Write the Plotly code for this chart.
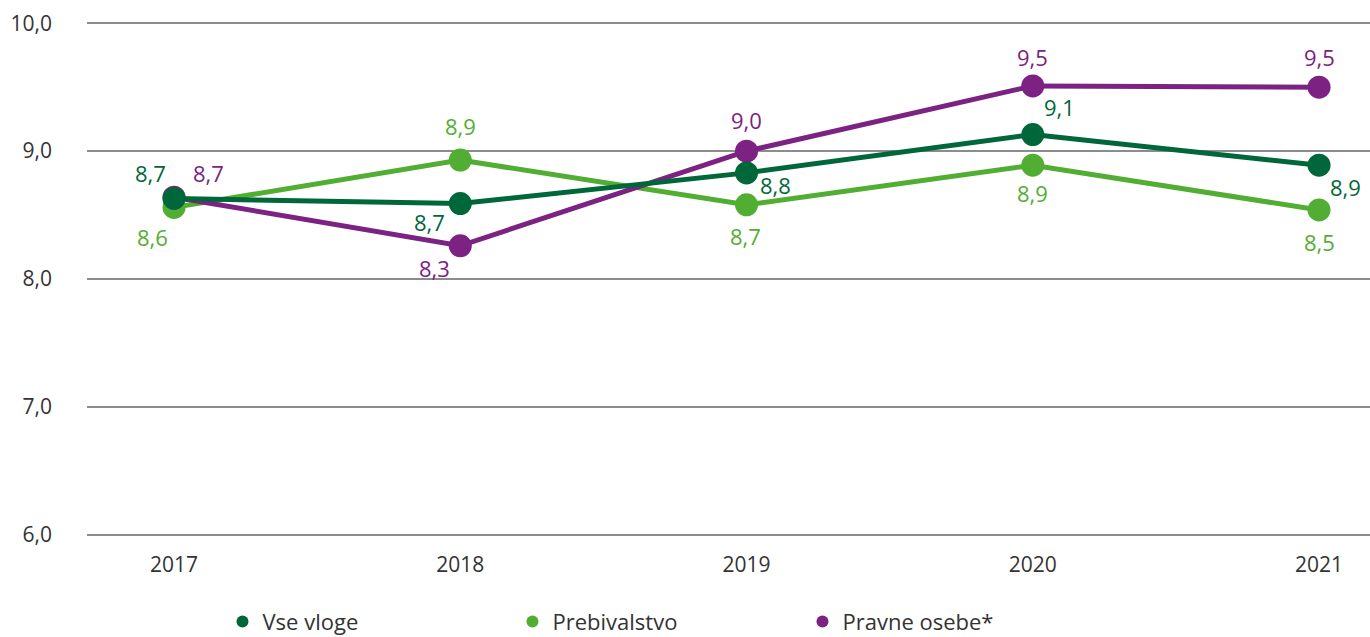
import plotly.graph_objects as go

years = ["2017", "2018", "2019", "2020", "2021"]
vse_vloge = [8.63, 8.59, 8.83, 9.13, 8.89]
prebivalstvo = [8.56, 8.93, 8.58, 8.89, 8.54]
pravne_osebe = [8.64, 8.26, 9.0, 9.51, 9.50]

vse_labels = ["8,7", "8,7", "8,8", "9,1", "8,9"]
preb_labels = ["8,6", "8,9", "8,7", "8,9", "8,5"]
prav_labels = ["8,7", "8,3", "9,0", "9,5", "9,5"]

names = ["Vse vloge", "Prebivalstvo", "Pravne osebe*"]
colors = ["#00673A", "#52AE32", "#7B2282"]

# label offsets (px) from each marker
vse_off = [(-24, -25), (-31, 18), (29, 12), (27, -28), (26, 22)]
preb_off = [(-22, 30), (0, -34), (-1, 31), (0, 28), (0, 32)]
prav_off = [(34, -24), (-26, 22), (0, -31), (0, -29), (0, -30)]

FONT = "Open Sans"
TXT = "#333333"
fig = go.Figure()

series = [
    (prebivalstvo, preb_labels, preb_off, 1),
    (pravne_osebe, prav_labels, prav_off, 2),
    (vse_vloge, vse_labels, vse_off, 0),
]
for vals, labels, offs, ci in series:
    fig.add_trace(go.Scatter(
        x=years, y=vals, mode="lines+markers",
        line=dict(color=colors[ci], width=5),
        marker=dict(color=colors[ci], size=23),
        showlegend=False, hoverinfo="skip", cliponaxis=False,
    ))
    for i, (y, t, (dx, dy)) in enumerate(zip(vals, labels, offs)):
        # category axis: annotation x is the category index
        fig.add_annotation(x=i, y=y, text=t, showarrow=False,
                           xshift=dx, yshift=-dy, xanchor="center", yanchor="middle",
                           font=dict(family=FONT, size=22, color=colors[ci]))

for ci, nm in enumerate(names):
    fig.add_trace(go.Scatter(
        x=[None], y=[None], mode="markers", name=nm,
        marker=dict(color=colors[ci], size=14),
    ))

fig.update_layout(
    width=1370, height=637,
    margin=dict(l=87, r=0, t=22, b=101, autoexpand=False),
    paper_bgcolor="white", plot_bgcolor="white",
    separators=",.",
    font=dict(family=FONT, size=20, color=TXT),
    legend=dict(orientation="h", x=0.1056, xanchor="left", y=-0.126, yanchor="top",
                entrywidth=245, itemsizing="constant", itemwidth=30,
                font=dict(family=FONT, size=22, color=TXT)),
    xaxis=dict(type="category", range=[-0.304, 4.178], showgrid=False,
               showline=False, zeroline=False, ticks="", ticklabelstandoff=14,
               tickfont=dict(family=FONT, size=21, color=TXT)),
    yaxis=dict(range=[5.99, 10.01], tickvals=[6, 7, 8, 9, 10], tickformat=".1f",
               showgrid=True, gridcolor="#8c8c8c", gridwidth=1.5, zeroline=False,
               showline=False, ticks="", ticklabelstandoff=34,
               tickfont=dict(family=FONT, size=21, color=TXT)),
)

fig.write_html("out.html", config={"displayModeBar": False},
               post_script="document.body.style.margin='0';document.body.style.overflow='hidden';")
